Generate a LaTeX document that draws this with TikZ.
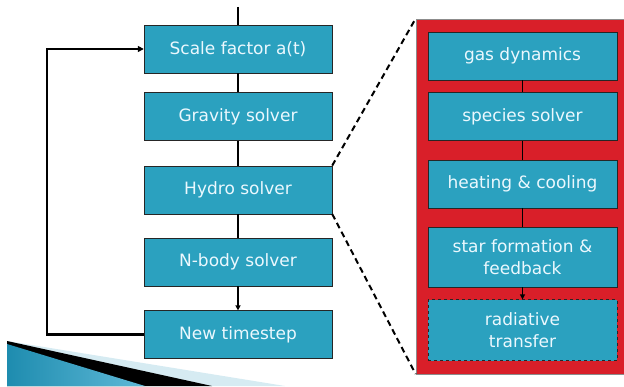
\documentclass[tikz,border=0pt]{standalone}
\usepackage{fontspec}
\setmainfont{DejaVu Sans}
\usetikzlibrary{arrows.meta, positioning, fit, backgrounds}

\definecolor{boxblue}{RGB}{43,161,191}
\definecolor{panelred}{RGB}{217,31,41}
\definecolor{decolight}{RGB}{214,235,242}
\definecolor{decodark}{RGB}{30,140,175}
\definecolor{decolite}{RGB}{95,185,215}

\begin{document}
\begin{tikzpicture}[x=1pt, y=1pt,
  box/.style={draw=black!85, fill=boxblue, text=white!92!cyan, align=center,
              minimum width=188pt, minimum height=48pt, inner sep=0pt,
              font=\fontsize{17}{22}\selectfont},
  sub/.style={box, minimum width=189pt},
  panel/.style={draw=black!45, fill=panelred, inner xsep=12pt, inner ysep=13pt},
  link/.style={line width=1.3pt},
  arr/.style={link, -{Triangle[length=5pt, width=5pt]}},
  back/.style={line width=2.6pt, -{Triangle[length=6pt, width=6pt]}},
  zoom/.style={line width=2pt, dash pattern=on 6pt off 4pt}
]
  \useasboundingbox (0,0) rectangle (624,386);

  % main loop (left)
  \node[box] (scale) at (238,337) {Scale factor a(t)};
  \node[box, below=19pt of scale] (grav)    {Gravity solver};
  \node[box, below=25pt of grav]  (hydro)   {Hydro solver};
  \node[box, below=24pt of hydro] (nbody)   {N-body solver};
  \node[box, below=24pt of nbody] (newstep) {New timestep};
  \coordinate (entry) at (238,379);

  % hydro detail (right)
  \node[sub] (gas) at (522.5,330) {gas dynamics};
  \node[sub, below=12pt of gas]   (species) {species solver};
  \node[sub, below=19pt of species] (heat)  {heating \& cooling};
  \node[sub, below=19pt of heat, minimum height=60pt] (star) {star formation \&\\feedback};
  \node[sub, below=12pt of star, minimum height=61pt, dashed] (rad) {radiative\\transfer};

  \begin{scope}[on background layer]
    \node[panel, fit=(gas)(rad)] (detail) {};
  \end{scope}

  \draw[link] (entry) -- (scale);
  \draw[link] (scale) -- (grav);
  \draw[link] (grav)  -- (hydro);
  \draw[link] (hydro) -- (nbody);
  \draw[arr]  (nbody) -- (newstep);
  \draw[back] (newstep.west) -- ++(-97,0) |- (scale.west);

  \draw[link] (gas)     -- (species);
  \draw[link] (species) -- (heat);
  \draw[link] (heat)    -- (star);
  \draw[arr]  (star)    -- (rad);

  \draw[zoom] (hydro.north east) -- (detail.north west);
  \draw[zoom] (hydro.south east) -- (detail.south west);

  % corner ornament
  \fill[decolight] (7,45) -- (285,0) -- (7,0) -- cycle;
  \fill[black] (7,45) -- (212,0) -- (7,0) -- cycle;
  \shade[left color=decodark, right color=decolite] (7,42) -- (145,0) -- (7,0) -- cycle;
\end{tikzpicture}
\end{document}
